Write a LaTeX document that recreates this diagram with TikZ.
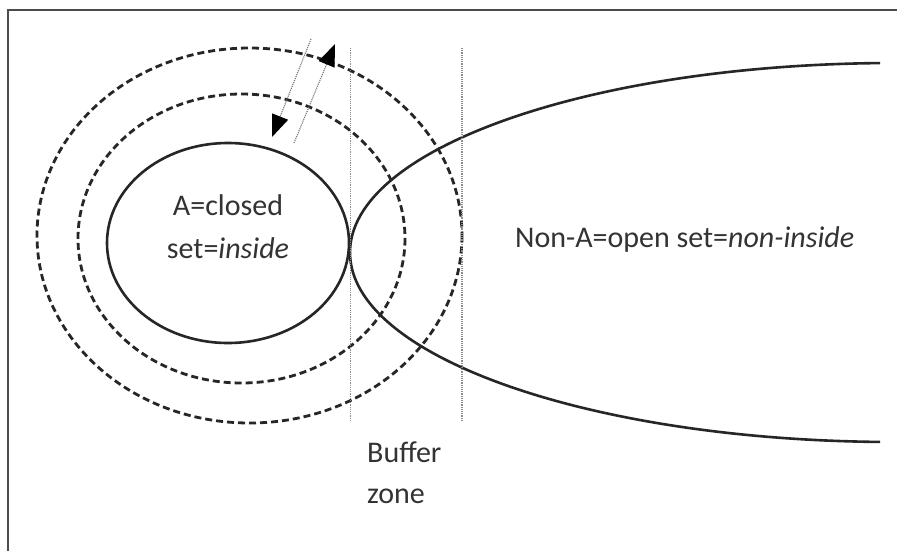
\documentclass[tikz,border=0pt]{standalone}
\usepackage{fontspec}
\setmainfont{Carlito}
\usetikzlibrary{arrows.meta}
\begin{document}
\begin{tikzpicture}[x=1pt,y=-1pt,
  frameline/.style={line width=2.2pt, black!70},
  solidline/.style={line width=2.6pt, black!85},
  dashline/.style={line width=2.8pt, black!85, dash pattern=on 7pt off 4pt},
  zoneline/.style={line width=1.2pt, black!45, densely dotted},
  flowarrow/.style={line width=1.1pt, black!55, densely dotted,
    -{Triangle[length=22pt,width=17pt,black]}},
  lbl/.style={font=\fontsize{30}{42}\selectfont, text=black!80, inner sep=0pt}]
\useasboundingbox (0,0) rectangle (897,550);
\fill[white] (0,0) rectangle (897,550);
% frame
\draw[frameline] (8,560) -- (8,10) -- (900,10);
% closed set A and its dashed neighbourhoods
\draw[solidline] (228,243) ellipse [x radius=121, y radius=100];
\draw[dashline] (241.5,238.5) ellipse [x radius=163.5, y radius=144.5];
\draw[dashline] (249.5,235.5) ellipse [x radius=212.5, y radius=187.5];
% open set non-A
\begin{scope}
  \clip (0,0) rectangle (880,550);
  \draw[solidline] (895,252.5) ellipse [x radius=545, y radius=189.5];
\end{scope}
% buffer zone boundaries
\coordinate (z1t) at (350.5,48);
\coordinate (z1b) at (350.5,422);
\coordinate (z2t) at (462,48);
\coordinate (z2b) at (462,422);
\draw[zoneline] (z1t) -- (z1b);
\draw[zoneline] (z2t) -- (z2b);
% arrows
\coordinate (a1s) at (311,39);
\coordinate (a1e) at (272,137);
\coordinate (a2s) at (294,143);
\coordinate (a2e) at (335,44);
\draw[flowarrow] (a1s) -- (a1e);
\draw[flowarrow] (a2s) -- (a2e);
% labels
\node[lbl, anchor=base] (aclosed) at (228,215) {A=closed};
\node[lbl, anchor=base] (ainside) at (228,258) {set=\textit{inside}};
\node[lbl, anchor=base west] (nona) at (515,247) {Non-A=open set=\textit{non-inside}};
\node[lbl, anchor=base west] (buffer) at (367,462) {Buffer};
\node[lbl, anchor=base west] (zone) at (367,503) {zone};
\end{tikzpicture}
\end{document}
